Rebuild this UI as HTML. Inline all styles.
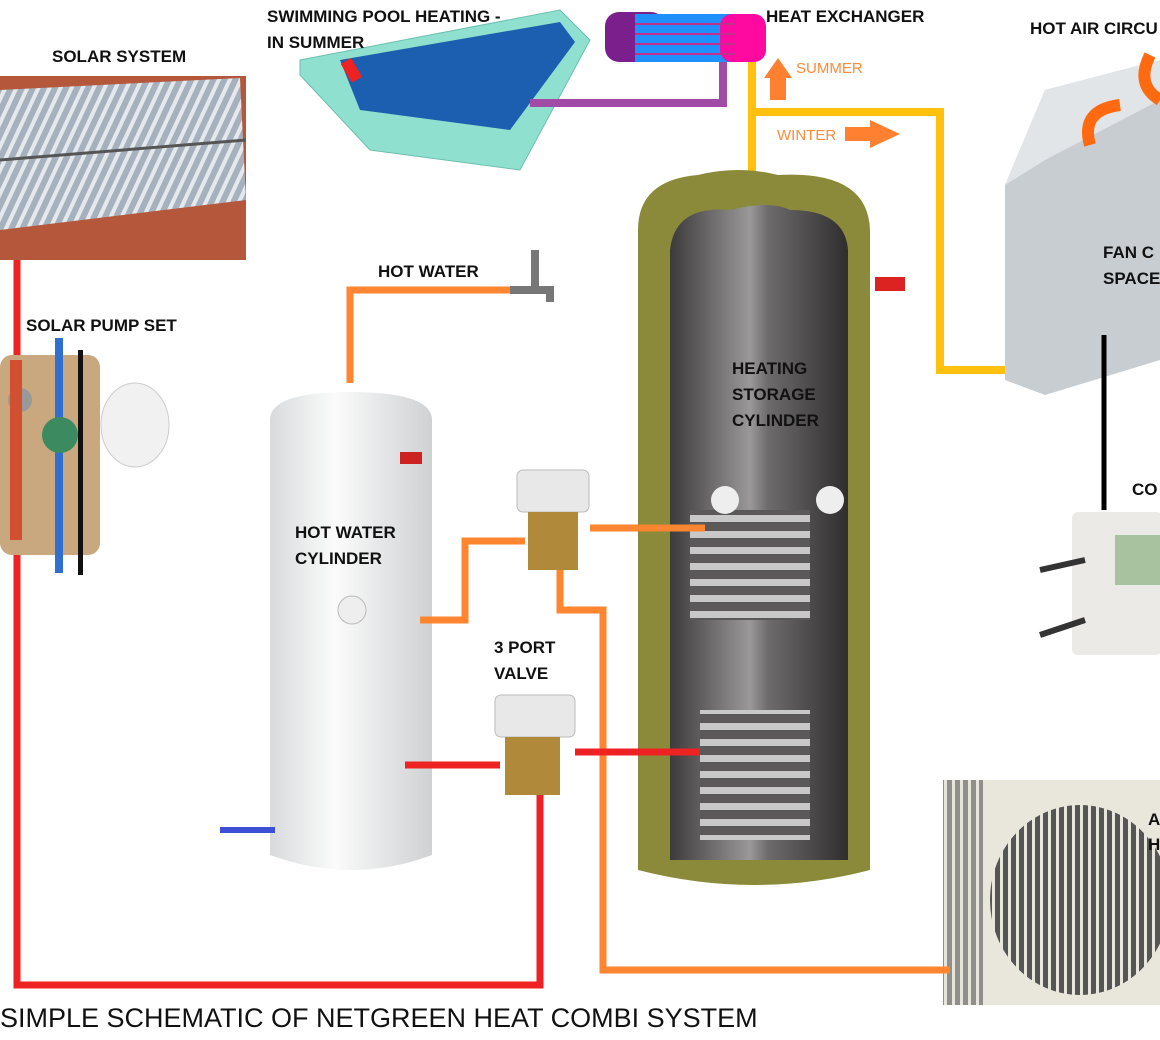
<!DOCTYPE html>
<html><head><style>
html,body{margin:0;padding:0;background:#fff;}
svg{display:block;}
text{font-family:"Liberation Sans",sans-serif;}
</style></head><body>
<svg width="1160" height="1040" viewBox="0 0 1160 1040" xmlns="http://www.w3.org/2000/svg">
<defs>
<linearGradient id="wc" x1="0" x2="1"><stop offset="0" stop-color="#d8dadc"/><stop offset="0.4" stop-color="#fbfbfb"/><stop offset="1" stop-color="#cfd1d3"/></linearGradient>
<linearGradient id="dc" x1="0" x2="1"><stop offset="0" stop-color="#3c3a3a"/><stop offset="0.45" stop-color="#9a9898"/><stop offset="0.55" stop-color="#6d6b6b"/><stop offset="1" stop-color="#2f2d2d"/></linearGradient>
<linearGradient id="sp" x1="0" x2="1" y1="0" y2="1"><stop offset="0" stop-color="#8e97a3"/><stop offset="0.5" stop-color="#d5dbe2"/><stop offset="1" stop-color="#6b7380"/></linearGradient>
<pattern id="tubes" width="10" height="10" patternUnits="userSpaceOnUse" patternTransform="rotate(25)"><rect width="10" height="10" fill="#a7b1bd"/><rect width="4" height="10" fill="#e4e9ee"/></pattern>
<pattern id="coil" width="10" height="16" patternUnits="userSpaceOnUse"><rect width="10" height="16" fill="#5a5858"/><rect y="3" width="10" height="7" fill="#c8c8c8"/></pattern>
<pattern id="grill" width="8" height="8" patternUnits="userSpaceOnUse"><rect width="8" height="8" fill="#555"/><rect width="3" height="8" fill="#e8e6dc"/></pattern>
</defs>

<!-- solar system -->
<rect x="0" y="76" width="246" height="184" fill="#b4573b"/>
<polygon points="0,90 240,78 246,200 0,230" fill="url(#tubes)"/>
<line x1="0" y1="160" x2="246" y2="140" stroke="#555" stroke-width="3"/>
<text x="52" y="62" font-size="17" font-weight="bold" fill="#111">SOLAR SYSTEM</text>

<!-- pool -->
<polygon points="300,60 560,10 590,40 520,170 370,150 300,75" fill="#8fe0cf" stroke="#6bbfb0"/>
<polygon points="340,60 560,22 575,42 510,130 360,110" fill="#1c5fb0"/>
<rect x="345" y="60" width="12" height="22" fill="#e22" transform="rotate(-30 350 70)"/>
<text x="267" y="22" font-size="17" font-weight="bold" fill="#111">SWIMMING POOL HEATING -</text>
<text x="267" y="48" font-size="17" font-weight="bold" fill="#111">IN SUMMER</text>

<!-- heat exchanger -->
<rect x="605" y="12" width="60" height="50" rx="14" fill="#7b1f8c"/>
<rect x="635" y="14" width="100" height="48" fill="#1e90ff"/>
<rect x="720" y="14" width="46" height="48" rx="12" fill="#ff0aa0"/>
<g stroke="#c0308c" stroke-width="2"><line x1="635" y1="24" x2="735" y2="24"/><line x1="635" y1="34" x2="735" y2="34"/><line x1="635" y1="44" x2="735" y2="44"/><line x1="635" y1="54" x2="735" y2="54"/></g>
<text x="766" y="22" font-size="17" font-weight="bold" fill="#111">HEAT EXCHANGER</text>

<!-- pipes -->
<polyline points="530,103 723,103 723,62" fill="none" stroke="#a14aa6" stroke-width="8"/>
<polyline points="752,62 752,175" fill="none" stroke="#ffc10e" stroke-width="8"/>
<polyline points="752,112 940,112 940,370 1043,370" fill="none" stroke="#ffc10e" stroke-width="8"/>
<polygon points="770,100 770,78 764,78 778,58 792,78 786,78 786,100" fill="#ff8030"/>
<text x="796" y="73" font-size="15" fill="#ff8a3a">SUMMER</text>
<polygon points="845,127 870,127 870,120 900,134 870,148 870,141 845,141" fill="#ff8030"/>
<text x="777" y="140" font-size="15" fill="#ff8a3a">WINTER</text>
<text x="1030" y="34" font-size="17" font-weight="bold" fill="#111">HOT AIR CIRCU</text>

<!-- fan coil -->
<polygon points="1045,90 1160,60 1160,360 1045,395 1005,380 1005,185" fill="#c8cdd2"/>
<polygon points="1005,185 1045,160 1160,100 1160,60 1045,90" fill="#e2e5e8"/>
<path d="M1090,145 q-10,-35 30,-40" fill="none" stroke="#ff6a10" stroke-width="12"/>
<path d="M1160,100 q-25,-15 -10,-45" fill="none" stroke="#ff6a10" stroke-width="12"/>
<text x="1103" y="258" font-size="17" font-weight="bold" fill="#111">FAN C</text>
<text x="1103" y="284" font-size="17" font-weight="bold" fill="#111">SPACE</text>
<line x1="1104" y1="335" x2="1104" y2="510" stroke="#000" stroke-width="5"/>

<!-- controller -->
<rect x="1072" y="512" width="90" height="143" rx="6" fill="#eceae6"/>
<rect x="1115" y="535" width="45" height="50" fill="#a8c2a0"/>
<line x1="1040" y1="570" x2="1085" y2="560" stroke="#333" stroke-width="6"/>
<line x1="1040" y1="635" x2="1085" y2="620" stroke="#333" stroke-width="6"/>
<text x="1132" y="495" font-size="17" font-weight="bold" fill="#111">CO</text>

<!-- outdoor unit -->
<rect x="943" y="780" width="220" height="225" fill="#e9e6dc"/>
<rect x="943" y="780" width="40" height="225" fill="url(#grill)" opacity="0.6"/>
<ellipse cx="1080" cy="900" rx="90" ry="95" fill="url(#grill)"/>
<text x="1148" y="825" font-size="17" font-weight="bold" fill="#111">A</text>
<text x="1148" y="850" font-size="17" font-weight="bold" fill="#111">H</text>

<!-- heating storage cylinder -->
<path d="M638,230 q0,-50 60,-55 q40,-10 80,0 q90,-5 92,55 v640 q-115,30 -232,0 z" fill="#8a8a3a"/>
<path d="M670,250 q5,-45 60,-40 q40,-10 60,0 q55,0 58,40 v610 h-178 z" fill="url(#dc)"/>
<rect x="690" y="510" width="120" height="110" fill="url(#coil)"/>
<rect x="700" y="710" width="110" height="130" fill="url(#coil)"/>
<circle cx="725" cy="500" r="14" fill="#eee"/><circle cx="830" cy="500" r="14" fill="#eee"/>
<text x="732" y="374" font-size="17" font-weight="bold" fill="#111">HEATING</text>
<text x="732" y="400" font-size="17" font-weight="bold" fill="#111">STORAGE</text>
<text x="732" y="426" font-size="17" font-weight="bold" fill="#111">CYLINDER</text>
<rect x="875" y="277" width="30" height="14" fill="#d22"/>

<!-- hot water cylinder -->
<path d="M270,420 q0,-28 80,-28 q82,0 82,28 v435 q-80,30 -162,0 z" fill="url(#wc)"/>
<circle cx="352" cy="610" r="14" fill="#eee" stroke="#bbb"/>
<text x="295" y="538" font-size="17" font-weight="bold" fill="#111">HOT WATER</text>
<text x="295" y="564" font-size="17" font-weight="bold" fill="#111">CYLINDER</text>
<rect x="400" y="452" width="22" height="12" fill="#c22"/>
<line x1="220" y1="830" x2="275" y2="830" stroke="#3c4fd6" stroke-width="6"/>

<!-- tap -->
<path d="M510,290 h40 v12 M535,250 v40" fill="none" stroke="#777" stroke-width="8"/>
<text x="378" y="277" font-size="17" font-weight="bold" fill="#111">HOT WATER</text>

<!-- orange pipes -->
<polyline points="350,383 350,290 510,290" fill="none" stroke="#ff8530" stroke-width="7"/>
<polyline points="420,620 465,620 465,541 525,541" fill="none" stroke="#ff8530" stroke-width="7"/>
<line x1="590" y1="528" x2="705" y2="528" stroke="#ff8530" stroke-width="7"/>
<polyline points="560,570 560,610 603,610 603,970 950,970" fill="none" stroke="#ff8530" stroke-width="7"/>

<!-- red pipes -->
<polyline points="17,260 17,985 540,985 540,775" fill="none" stroke="#ee2222" stroke-width="7"/>
<line x1="405" y1="765" x2="500" y2="765" stroke="#ee2222" stroke-width="7"/>
<line x1="575" y1="752" x2="700" y2="752" stroke="#ee2222" stroke-width="7"/>

<!-- valves -->
<rect x="517" y="470" width="72" height="42" rx="6" fill="#e8e8e8" stroke="#bbb"/>
<rect x="528" y="512" width="50" height="58" fill="#b08a3a"/>
<rect x="495" y="695" width="80" height="42" rx="6" fill="#e8e8e8" stroke="#bbb"/>
<rect x="505" y="737" width="55" height="58" fill="#b08a3a"/>
<text x="494" y="653" font-size="17" font-weight="bold" fill="#111">3 PORT</text>
<text x="494" y="679" font-size="17" font-weight="bold" fill="#111">VALVE</text>

<!-- solar pump set -->
<rect x="0" y="355" width="100" height="200" rx="12" fill="#c9a880"/>
<rect x="55" y="338" width="8" height="235" fill="#2f6fd0"/>
<rect x="78" y="350" width="5" height="225" fill="#111"/>
<circle cx="60" cy="435" r="18" fill="#3b8a60"/>
<circle cx="20" cy="400" r="12" fill="#999"/>
<rect x="10" y="360" width="12" height="180" fill="#d25030"/>
<ellipse cx="135" cy="425" rx="34" ry="42" fill="#f1f1f1" stroke="#ccc"/>
<text x="26" y="331" font-size="17" font-weight="bold" fill="#111">SOLAR PUMP SET</text>

<text x="0" y="1027" font-size="27" fill="#111">SIMPLE SCHEMATIC OF NETGREEN HEAT COMBI SYSTEM</text>
</svg>
</body></html>
